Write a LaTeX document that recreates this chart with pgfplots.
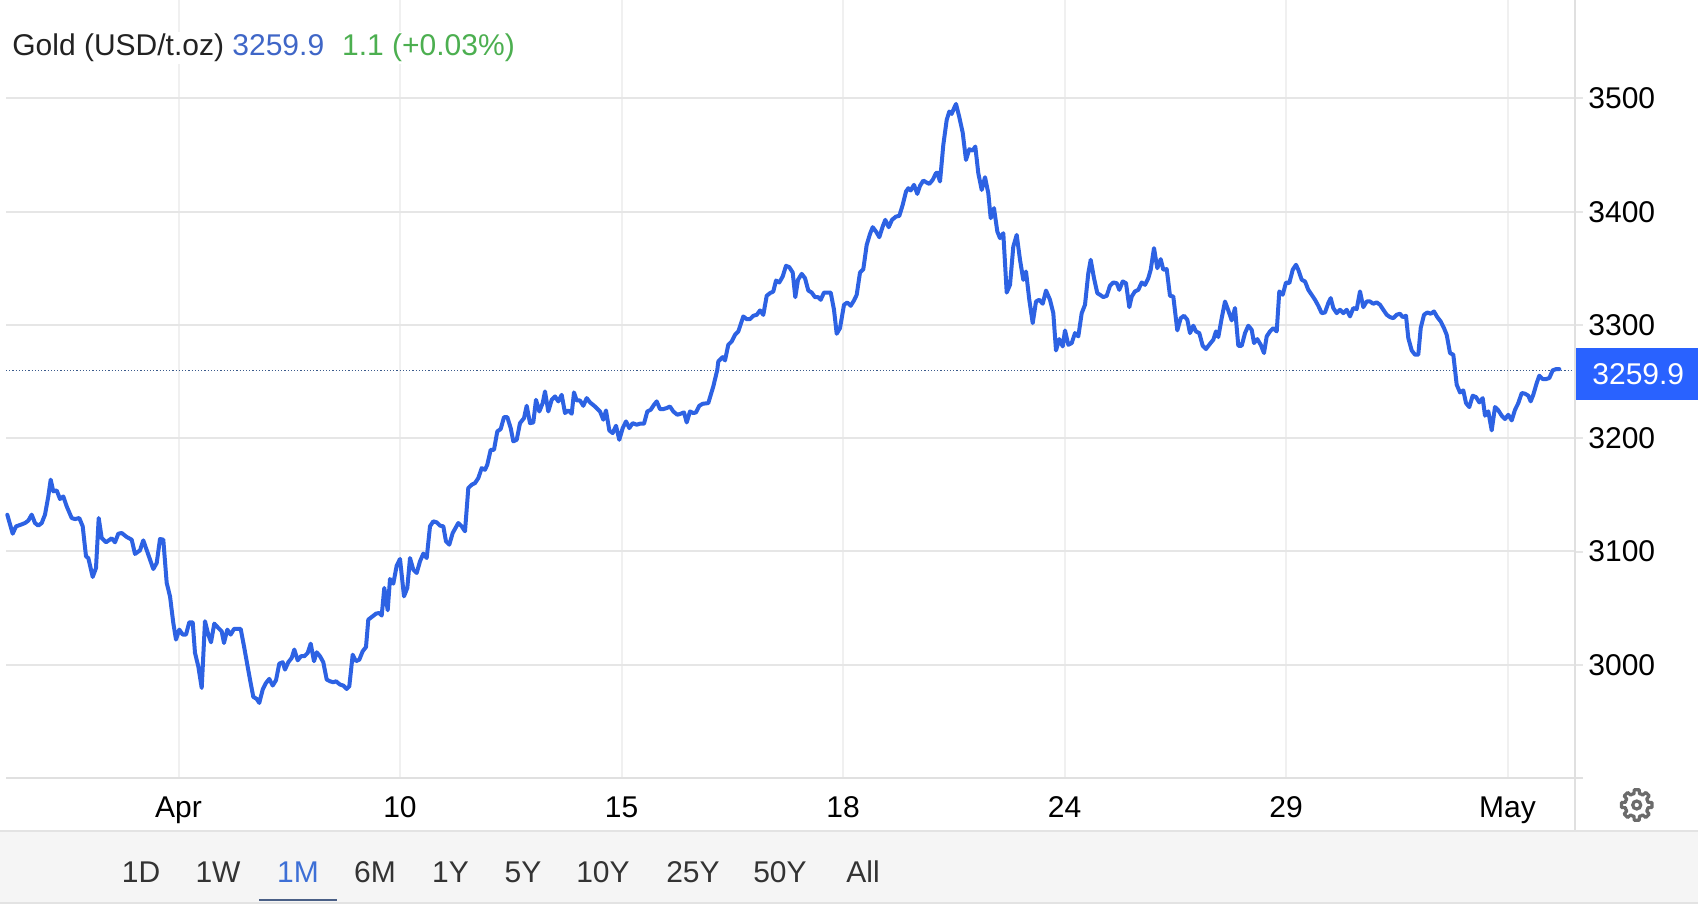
\documentclass[border=0pt]{standalone}
\usepackage{pgfplots}
\pgfplotsset{compat=1.18}
\usepackage{fontspec}
\setmainfont{Liberation Sans}
\definecolor{lineblue}{HTML}{2D62E3}
\definecolor{boxblue}{HTML}{2962FF}
\definecolor{titleblack}{HTML}{222222}
\definecolor{titleblue}{HTML}{3F66C7}
\definecolor{titlegreen}{HTML}{4CAF50}
\definecolor{dotblue}{HTML}{3A5A8C}
\definecolor{hgrid}{HTML}{E6E6E6}
\definecolor{vgrid}{HTML}{F0F0F0}
\definecolor{axisgray}{HTML}{E0E0E0}
\definecolor{stripgray}{HTML}{F5F5F5}
\definecolor{stripline}{HTML}{E3E3E3}
\definecolor{btntext}{HTML}{333333}
\definecolor{btnactive}{HTML}{3D6FD6}
\definecolor{underl}{HTML}{4A5F86}
\definecolor{gearc}{HTML}{6B6B6B}
\begin{document}
\begin{tikzpicture}
\begin{scope}[shift={(0,452pt)},x=0.5pt,y=-0.5pt]
\fill[white] (0,0) rectangle (1698,904);
\end{scope}
\begin{axis}[
  at={(3pt,63pt)}, anchor=south west,
  scale only axis, width=784.5pt, height=389pt,
  xmin=6, xmax=1575, ymin=2900, ymax=3586.9,
  clip=false,
  axis line style={draw=none},
  tick style={draw=none},
  major tick length=0pt,
  xtick={178.5,400,621.5,843,1064.5,1286,1507.5},
  xticklabels={Apr,10,15,18,24,29,May},
  ytick={3000,3100,3200,3300,3400,3500},
  yticklabels={3000,3100,3200,3300,3400,3500},
  yticklabel pos=right,
  grid=major,
  major grid style={line width=1pt},
  every axis x grid/.style={draw=vgrid},
  every axis y grid/.style={draw=hgrid},
  tick label style={font=\fontsize{15}{18}\selectfont, text=black},
  xticklabel style={anchor=base, yshift=-20pt, inner sep=0pt},
  yticklabel style={anchor=west, inner xsep=0pt, xshift=6.5pt},
]
\addplot[dotblue, densely dotted, line width=0.6pt] coordinates {(6,3259.9) (1575,3259.9)};
\addplot[lineblue, line width=2pt, line join=round, line cap=round] table {
x y
7.3 3132.4
12.7 3115.7
16 3122.1
20.7 3123.6
25 3125.1
28.3 3127.2
31.7 3132.5
35 3125.1
38.3 3122.8
41.7 3125.1
45 3132.5
48.3 3148.6
50.7 3163.4
53.3 3153.1
56.7 3153.9
60 3146.3
63.3 3148.6
66.7 3139.8
71.7 3129.5
75 3128.6
79.3 3129.5
82.7 3122.2
86 3095.7
88.3 3094.2
92.7 3077.5
96 3085.4
98.7 3129.5
101.7 3111.9
106 3108.1
111.7 3111.6
115 3108.1
118.3 3115.7
121.7 3116.3
126.7 3112.8
131.7 3110.4
135 3097.8
140 3101.0
143.3 3109.8
148.3 3097.2
153.3 3084.5
156.7 3089.8
160 3111.0
163.3 3110.4
166.7 3072.2
170 3060.4
173.3 3036.9
176 3022.2
179.3 3031.0
182.7 3026.6
186 3026.6
189.3 3037.5
192.7 3037.5
195 3010.4
198.3 2998.6
201.7 2979.5
205 3038.4
208.3 3026.6
211 3019.8
214.3 3036.3
218.3 3032.5
221.7 3029.5
224 3019.2
227.3 3031.0
230.7 3026.6
234 3031.6
240.7 3031.6
244 3016.3
247.3 3000.1
250 2986.9
253.3 2971.6
256.7 2969.8
259.3 2966.3
262.7 2978.1
266 2983.9
269.3 2987.5
272.7 2981.6
276 2986.3
279.3 3001.0
282.7 3002.2
285 2995.7
288.3 3002.2
291.7 3006.0
294.3 3013.4
297.7 3003.9
301 3007.5
304.3 3007.5
307.7 3010.4
310.7 3018.6
314 3003.1
316.7 3011.0
320 3007.5
323.3 3002.2
326.7 2986.9
330 2985.4
333.3 2984.5
336 2985.4
340 2982.5
343.3 2981.6
346.7 2978.6
349.3 2981.0
352.7 3008.9
356 3003.1
359.3 3004.5
362.7 3011.9
366 3015.7
368.3 3039.8
372.7 3042.8
376 3045.1
379.3 3045.7
381.7 3043.4
384.3 3067.8
387.7 3048.1
390 3075.7
393.3 3071.6
396.7 3087.5
400 3093.4
404 3060.4
407.3 3067.8
410 3094.2
413.3 3083.9
416.7 3081.0
420 3091.3
423.3 3098.1
426.7 3094.2
430 3122.2
433.3 3126.6
436.7 3125.7
440 3122.8
443.3 3122.2
446 3108.9
449.3 3106.0
452.7 3116.3
458.3 3125.1
461.7 3122.2
465 3117.8
468.3 3156.0
471.7 3158.9
475 3160.4
478.3 3164.8
481.7 3173.6
485 3172.1
487.3 3176.6
490.7 3189.8
494 3189.8
497.3 3206.0
500.7 3208.1
504 3218.6
507.3 3218.6
510.7 3208.9
513.3 3197.2
516.7 3198.6
520 3213.3
524 3217.7
526.7 3228.6
530 3213.3
533.3 3213.9
536 3233.9
539.3 3223.6
542.7 3231.0
545 3241.3
548.3 3223.6
551.7 3233.9
555 3236.9
558.3 3232.5
561.7 3238.3
565 3222.2
568.3 3224.5
571.7 3221.6
574 3240.4
576.7 3233.3
580 3233.3
583.3 3228.6
586.7 3235.4
590 3231.6
595 3228.0
600 3223.6
603.3 3216.3
606 3224.5
609.3 3206.9
612.7 3204.5
616 3211.0
619.3 3198.6
622.7 3208.9
626 3214.8
629.3 3208.9
632.7 3213.3
636.7 3211.9
640 3212.8
644 3212.8
647.3 3223.6
650.7 3225.1
654 3229.5
656.7 3232.5
660 3225.7
663.3 3225.7
666.7 3226.6
670 3228.0
673.3 3223.6
677.3 3220.7
680.7 3221.6
684 3222.8
686.7 3213.9
690 3223.6
693.3 3222.2
696 3222.8
699.3 3228.6
702.7 3230.4
708.3 3231.0
713.3 3245.7
717.3 3260.4
718.3 3267.8
722.7 3271.6
725 3268.7
728.3 3282.5
731.7 3285.4
735 3291.3
738.3 3294.2
743.3 3307.5
746.7 3305.1
750 3305.1
753.3 3308.1
756.7 3308.9
760 3312.8
763.3 3308.9
766.7 3325.7
770 3328.1
773.3 3329.5
776 3339.2
779.3 3337.5
782.7 3342.8
786 3352.2
789.3 3351.0
792.7 3346.3
795.3 3324.5
798 3339.8
801.7 3345.1
805 3341.3
808.3 3330.4
811.7 3328.6
815 3324.5
818.3 3324.5
820.7 3322.2
824 3328.6
827.3 3328.6
830.7 3328.6
834 3313.4
836.7 3292.2
840 3297.2
844 3317.8
847.3 3319.8
850.7 3316.9
854 3321.6
856.7 3326.6
860 3346.3
863.3 3349.2
866.7 3370.7
870 3380.4
872.7 3386.3
876 3382.5
879.3 3377.5
882.7 3386.9
885.3 3392.8
888.7 3386.3
892 3392.8
896 3395.7
899.3 3396.3
902.7 3406.0
906 3417.8
908.3 3420.7
910.7 3418.7
914 3423.7
917.3 3415.7
920 3422.8
923.3 3427.5
926.7 3425.7
929.3 3424.5
932.7 3428.1
936 3434.0
937.3 3434.5
940 3426.6
943.3 3458.9
946.7 3481.0
949.3 3488.4
951.7 3486.3
954 3491.3
956 3495.1
959.3 3483.4
962.7 3469.8
966 3445.7
969.3 3455.1
972.7 3453.9
975.3 3457.5
978.3 3434.0
981.7 3419.2
985 3430.4
988.3 3416.3
990.7 3394.2
994 3403.1
997.3 3382.5
1000 3376.6
1003.3 3381.0
1006.7 3328.6
1010 3335.4
1013.3 3369.2
1016.7 3379.5
1020 3357.5
1023.3 3339.8
1026 3347.2
1029.3 3322.2
1032.7 3301.6
1036 3320.7
1039.3 3322.2
1042.7 3318.7
1046 3330.4
1050 3322.2
1053.3 3310.4
1056 3277.5
1059.3 3287.5
1062.7 3281.0
1065 3295.1
1068.3 3282.5
1071.7 3284.0
1075 3292.8
1078.3 3289.9
1081.7 3310.4
1085 3317.8
1088.3 3345.7
1090.7 3357.5
1094 3341.3
1097.3 3328.1
1100 3326.6
1103.3 3324.6
1106.7 3325.7
1110 3334.6
1113.3 3337.5
1116.7 3336.9
1119.3 3331.0
1122.7 3338.4
1126 3336.9
1129.3 3315.7
1131.7 3325.1
1135 3329.6
1138.3 3331.0
1141.7 3337.5
1145 3335.4
1148.3 3341.3
1150.7 3348.7
1154 3367.8
1157.3 3350.1
1160.7 3358.1
1163.3 3348.7
1166.7 3349.3
1170 3325.7
1173.3 3325.1
1177.3 3295.2
1180.7 3306.0
1184 3308.1
1187.3 3304.6
1190 3292.8
1193.3 3299.3
1196 3294.3
1199.3 3292.8
1202.7 3281.6
1206 3278.7
1210 3283.4
1213.3 3286.9
1216 3294.3
1218.3 3289.3
1221.7 3306.0
1225 3320.7
1228.3 3312.8
1231.7 3304.0
1235 3314.9
1238.3 3281.6
1241.7 3281.6
1245 3292.8
1248.3 3299.3
1251.7 3295.7
1254 3284.0
1257.3 3287.5
1260.7 3282.5
1264 3275.2
1266.7 3289.9
1270 3294.3
1273.3 3297.2
1276.7 3294.3
1279.3 3329.6
1282.7 3326.6
1286 3337.5
1289.3 3336.9
1292.7 3348.7
1296 3353.1
1298.3 3348.7
1301.7 3339.9
1305 3338.4
1308.3 3331.0
1311.7 3326.6
1315 3322.2
1318.3 3316.9
1321.7 3310.4
1325 3311.0
1328.3 3319.3
1330.7 3323.7
1333.3 3314.9
1336.7 3310.4
1340 3313.4
1343.3 3310.4
1346.7 3313.4
1350 3307.5
1353.3 3314.9
1356.7 3314.0
1360 3329.6
1363.3 3315.7
1366.7 3320.7
1370 3320.7
1373.3 3318.7
1376.7 3319.9
1380 3317.8
1383.3 3313.4
1386.7 3309.0
1390 3306.9
1393.3 3306.0
1396.7 3309.0
1400 3309.9
1402.7 3306.9
1406 3308.1
1408.3 3288.4
1411.7 3277.5
1415 3273.7
1418.3 3273.7
1420.7 3297.2
1424 3309.0
1427.3 3311.0
1430.7 3309.9
1434 3311.9
1437.3 3306.9
1440.7 3303.1
1444 3297.2
1446.7 3291.3
1450 3275.2
1453.3 3273.7
1456.7 3247.2
1460 3240.4
1463.3 3242.2
1466 3231.0
1469.3 3227.5
1472.7 3237.5
1476 3236.3
1479.3 3231.6
1482.7 3235.4
1485 3219.9
1488.3 3223.7
1491.7 3206.9
1495 3227.5
1498.3 3224.6
1501.7 3219.9
1505 3216.9
1508.3 3220.7
1511.7 3215.7
1515 3225.1
1518.3 3231.0
1521.7 3239.9
1525 3239.3
1528.3 3237.5
1530.7 3232.5
1533.3 3238.4
1536.7 3248.7
1539.3 3255.2
1542.7 3252.2
1546 3252.2
1549.3 3253.1
1552.7 3259.9
1556 3261.0
1559.3 3261.0
};
\end{axis}
\begin{scope}[shift={(0,452pt)},x=0.5pt,y=-0.5pt]
% axis lines and tick stubs
\draw[axisgray, line width=1pt] (1575,0) -- (1575,830);
\draw[axisgray, line width=1pt] (6,778) -- (1583,778);
\foreach \yy in {665,551.7,438.4,325.1,211.8,98.5}{
  \draw[hgrid, line width=1pt] (1576,\yy) -- (1583,\yy);
}
% title
\node[anchor=base west, inner sep=1pt, fill=white, font=\fontsize{15}{18}\selectfont, text=titleblack] at (10,56)
  {Gold (USD/t.oz) \textcolor{titleblue}{3259.9}\hspace{9pt}\textcolor{titlegreen}{1.1 (+0.03\%)}};
% current value box
\fill[boxblue] (1576,348) rectangle (1698,400);
\node[anchor=base west, inner sep=0pt, text=white, font=\fontsize{15}{18}\selectfont] at (1592,385) {3259.9};
% bottom strip
\fill[stripgray] (0,831) rectangle (1698,904);
\draw[stripline, line width=0.6pt] (0,831) -- (1698,831);
\draw[stripline, line width=0.6pt] (0,903) -- (1698,903);
\foreach \t/\xx in {1D/141, 1W/218, 6M/375, 1Y/450.5, 5Y/523, 10Y/603, 25Y/693, 50Y/780, All/863}{
  \node[anchor=base, inner sep=0pt, text=btntext, font=\fontsize{15}{18}\selectfont] at (\xx,883) {\t};
}
\node[anchor=base, inner sep=0pt, text=btnactive, font=\fontsize{15}{18}\selectfont] at (298,883) {1M};
\draw[underl, line width=1pt] (259,900) -- (337,900);
% gear
\begin{scope}[shift={(1636.7,805)}]
\draw[gearc, line width=1.6pt, line join=round]
  (-14:11.5) \foreach \a in {0,45,...,315}{ -- (\a-14:11.5) -- (\a-9:15.5) -- (\a+9:15.5) -- (\a+14:11.5) -- (\a+22.5:11.8)} -- cycle;
\draw[gearc, line width=1.6pt] (0,0) circle[radius=2pt];
\end{scope}
\end{scope}
\pgfresetboundingbox
\path[use as bounding box] (0,0) rectangle (849pt,452pt);
\end{tikzpicture}
\end{document}
